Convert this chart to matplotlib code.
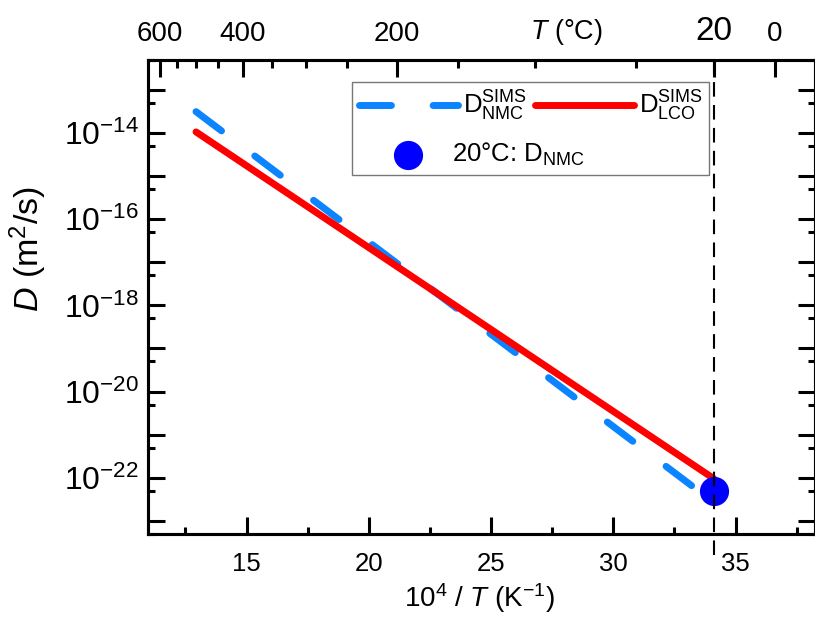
import numpy as np
import matplotlib
matplotlib.use('Agg')
import matplotlib.pyplot as plt
from matplotlib.ticker import FixedLocator, MultipleLocator, LogLocator, FuncFormatter, NullFormatter
from matplotlib.lines import Line2D

plt.rcParams['font.family'] = ['Liberation Sans', 'DejaVu Sans']
plt.rcParams['mathtext.fontset'] = 'custom'
plt.rcParams['mathtext.rm'] = 'Liberation Sans'
plt.rcParams['mathtext.it'] = 'Liberation Sans:italic'
plt.rcParams['mathtext.bf'] = 'Liberation Sans:bold'

# fitted lines run from 500 C down to 20 C
line_T_C = [500, 20]
D_nmc = [3.1e-14, 2.7e-23]
D_lco = [1.05e-14, 9.6e-23]
# measured point at room temperature
point_T_C = [20]
point_D = [4.9e-23]

top_major_C = [600, 400, 200, 20, 0]
top_minor_C = [550, 500, 450, 350, 300, 250, 150, 100, 50]

def inv_T(tc):
    return 1e4 / (np.asarray(tc, dtype=float) + 273.15)

blue = '#0a84ff'
dash = (0, (4.6, 6.0))

fig = plt.figure(figsize=(8.15, 6.17), dpi=100)
ax = fig.add_axes([0.181, 0.1345, 0.819, 0.769])

ax.plot(inv_T(line_T_C), D_nmc, color=blue, lw=5.0, ls=dash,
        dash_capstyle='round', solid_capstyle='round', zorder=3)
ax.plot(inv_T(line_T_C), D_lco, color='#ff0000', lw=5.0,
        solid_capstyle='round', zorder=4)
ax.plot(inv_T(point_T_C), point_D, 'o', color='#0000ff', ms=20, zorder=5)
ax.axvline(inv_T(point_T_C)[0], ymin=-0.045, ymax=1.0, color='k', lw=1.5,
           ls=(0, (7, 4)), clip_on=False, zorder=6)

ax.set_yscale('log')
ax.set_xlim(10.95, 38.25)
ax.set_ylim(5e-24, 5e-13)

ax.xaxis.set_major_locator(MultipleLocator(5))
ax.xaxis.set_minor_locator(MultipleLocator(2.5))
ax.yaxis.set_major_locator(LogLocator(base=10, numticks=30))
ax.yaxis.set_minor_locator(LogLocator(base=10, subs=[5.0], numticks=30))
ax.yaxis.set_minor_formatter(NullFormatter())

def yfmt(v, pos):
    e = int(round(np.log10(v)))
    if e % 2 == 0:
        return r'$\mathregular{10^{%d}}$' % e
    return ''
ax.yaxis.set_major_formatter(FuncFormatter(yfmt))

ax.tick_params(which='both', direction='in', top=False, right=True, width=2.2)
ax.tick_params(which='major', length=12.5)
ax.tick_params(which='minor', length=5)
ax.tick_params(axis='x', which='major', labelsize=18.5, pad=13)
ax.tick_params(axis='y', which='major', labelsize=23, pad=6)
for sp in ax.spines.values():
    sp.set_linewidth(2.2)

ax.set_xlabel(r'10$^{4}$ / $T$ (K$^{-1}$)', fontsize=20)
ax.xaxis.set_label_coords(0.497, -0.1)
ax.set_ylabel(r'$D$ (m$^{2}$/s)', fontsize=24.5)
ax.yaxis.set_label_coords(-0.147, 0.6)

# top axis in degrees Celsius
ax2 = ax.twiny()
ax2.set_xlim(ax.get_xlim())
ax2.xaxis.set_major_locator(FixedLocator(inv_T(top_major_C)))
ax2.xaxis.set_minor_locator(FixedLocator(inv_T(top_minor_C)))
ax2.set_xticklabels([str(t) for t in top_major_C])
ax2.tick_params(which='both', direction='in', width=2.2)
ax2.tick_params(which='major', length=12.5, labelsize=20, pad=9)
ax2.tick_params(which='minor', length=6)
for lab in ax2.get_xticklabels():
    if lab.get_text() == '20':
        lab.set_fontsize(24)
for sp in ax2.spines.values():
    sp.set_linewidth(2.2)
ax2.set_xlabel(r'$T$ (°C)', fontsize=19.5)
ax2.xaxis.set_label_coords(0.628, 1.043)

# legend: two line entries on the first row, the room-temperature point below
h_nmc = Line2D([], [], color=blue, lw=5.0, ls=dash, dash_capstyle='round')
h_pt = Line2D([], [], color='#0000ff', marker='o', ms=20, ls='none')
h_lco = Line2D([], [], color='#ff0000', lw=5.0, solid_capstyle='round')
leg = ax.legend([h_nmc, h_pt, h_lco],
                [r'$\mathregular{D^{SIMS}_{NMC}}$', '', r'$\mathregular{D^{SIMS}_{LCO}}$'],
                ncol=2, loc='upper left', bbox_to_anchor=(0.307, 0.952),
                borderaxespad=0, fontsize=18.5, handlelength=3.85, handletextpad=0.2,
                columnspacing=0.3, borderpad=0.25, labelspacing=0.85,
                fancybox=False, framealpha=1, edgecolor='#777777', numpoints=1)
leg.get_frame().set_linewidth(1.0)
ax.annotate(r'20°C: $\mathregular{D_{NMC}}$', xy=(1, 0.5), xycoords=leg.legend_handles[1],
            xytext=(-14.5, 0), textcoords='offset points', va='center', ha='left',
            fontsize=18.5, zorder=7)

plt.savefig('out.png', dpi=100)
